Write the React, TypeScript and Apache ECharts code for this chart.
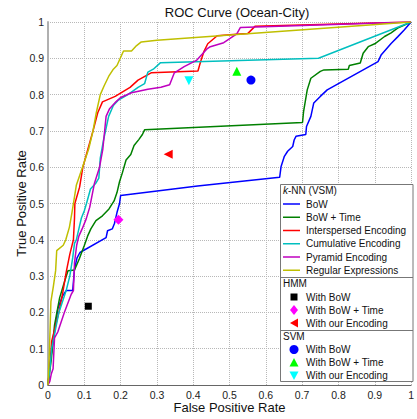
import React, { useEffect, useRef } from "react";
import * as echarts from "echarts";

const FONT = "'Liberation Sans', Arial, Helvetica, sans-serif";

const TITLE = "ROC Curve (Ocean-City)";
const X_NAME = "False Positive Rate";
const Y_NAME = "True Positive Rate";

// k-NN (VSM) curves: [FPR, TPR]
const bowCurve: number[][] = [
  [0, 0], [0.005, 0.055], [0.018, 0.146], [0.027, 0.21], [0.032, 0.224], [0.04, 0.245],
  [0.05, 0.26], [0.068, 0.26], [0.073, 0.32], [0.08, 0.35], [0.088, 0.365], [0.16, 0.406],
  [0.164, 0.425], [0.177, 0.43], [0.183, 0.445], [0.19, 0.475], [0.197, 0.5], [0.2, 0.522],
  [0.412, 0.548], [0.638, 0.572], [0.642, 0.602], [0.651, 0.63], [0.66, 0.644], [0.674, 0.657],
  [0.678, 0.675], [0.683, 0.685], [0.71, 0.69], [0.712, 0.712], [0.724, 0.74], [0.732, 0.777],
  [0.75, 0.795], [0.769, 0.813], [0.909, 0.891], [0.918, 0.91], [0.945, 0.941], [0.963, 0.959],
  [0.981, 0.978], [1, 1],
];
const bowTimeCurve: number[][] = [
  [0, 0], [0.009, 0.07], [0.018, 0.165], [0.032, 0.24], [0.045, 0.283], [0.055, 0.315],
  [0.073, 0.317], [0.086, 0.347], [0.1, 0.384], [0.109, 0.41], [0.118, 0.43], [0.132, 0.453],
  [0.15, 0.466], [0.168, 0.485], [0.182, 0.507], [0.19, 0.53], [0.197, 0.56], [0.205, 0.585],
  [0.215, 0.62], [0.228, 0.635], [0.237, 0.66], [0.25, 0.676], [0.26, 0.69], [0.266, 0.703],
  [0.701, 0.723], [0.704, 0.754], [0.714, 0.813], [0.724, 0.845], [0.75, 0.864], [0.76, 0.868],
  [0.827, 0.87], [0.83, 0.88], [0.86, 0.887], [0.868, 0.914], [0.882, 0.932], [0.9, 0.94],
  [0.927, 0.96], [0.945, 0.97], [0.963, 0.983], [1, 1],
];
const interspersedCurve: number[][] = [
  [0, 0], [0.005, 0.05], [0.01, 0.12], [0.02, 0.16], [0.03, 0.2], [0.04, 0.25], [0.05, 0.31],
  [0.06, 0.36], [0.07, 0.4], [0.073, 0.46], [0.074, 0.5], [0.087, 0.545], [0.096, 0.6],
  [0.11, 0.65], [0.124, 0.7], [0.137, 0.75], [0.15, 0.78], [0.185, 0.795], [0.226, 0.82],
  [0.248, 0.84], [0.284, 0.86], [0.413, 0.865], [0.42, 0.89], [0.43, 0.92], [0.44, 0.94],
  [0.466, 0.962], [0.528, 0.967], [0.55, 0.968], [0.57, 0.988], [1, 1],
];
const cumulativeCurve: number[][] = [
  [0, 0], [0.005, 0.04], [0.01, 0.1], [0.02, 0.15], [0.03, 0.2], [0.04, 0.23], [0.05, 0.26],
  [0.06, 0.3], [0.068, 0.35], [0.073, 0.39], [0.078, 0.4], [0.085, 0.43], [0.092, 0.46],
  [0.1, 0.48], [0.106, 0.5], [0.117, 0.54], [0.131, 0.555], [0.14, 0.57], [0.144, 0.625],
  [0.153, 0.675], [0.167, 0.74], [0.18, 0.77], [0.194, 0.785], [0.22, 0.8], [0.248, 0.82],
  [0.266, 0.83], [0.275, 0.862], [0.29, 0.87], [0.31, 0.888], [0.745, 0.9], [1, 1],
];
const pyramidCurve: number[][] = [
  [0, 0], [0.005, 0.01], [0.009, 0.03], [0.014, 0.045], [0.018, 0.13], [0.027, 0.146],
  [0.045, 0.2], [0.064, 0.25], [0.07, 0.26], [0.073, 0.337], [0.079, 0.385], [0.085, 0.41],
  [0.094, 0.43], [0.105, 0.457], [0.115, 0.49], [0.128, 0.556], [0.142, 0.6], [0.151, 0.65],
  [0.16, 0.74], [0.169, 0.76], [0.187, 0.78], [0.2, 0.792], [0.23, 0.805], [0.275, 0.815],
  [0.311, 0.82], [0.335, 0.827], [0.348, 0.86], [0.375, 0.877], [0.41, 0.895], [0.437, 0.925],
  [0.447, 0.932], [0.484, 0.943], [0.52, 0.967], [0.53, 0.985], [1, 1],
];
const regexCurve: number[][] = [
  [0, 0], [0.004, 0.098], [0.008, 0.23], [0.015, 0.273], [0.021, 0.315], [0.024, 0.37],
  [0.042, 0.385], [0.049, 0.4], [0.059, 0.435], [0.066, 0.475], [0.07, 0.5], [0.078, 0.55],
  [0.095, 0.6], [0.112, 0.65], [0.124, 0.7], [0.133, 0.75], [0.144, 0.8], [0.155, 0.825],
  [0.167, 0.85], [0.18, 0.87], [0.19, 0.88], [0.199, 0.9], [0.208, 0.92], [0.23, 0.92],
  [0.244, 0.935], [0.257, 0.945], [0.3, 0.95], [1, 1],
];

// single-point classifiers
const hmmBow = [0.111, 0.217];
const hmmBowTime = [0.194, 0.455];
const hmmOurs = [0.331, 0.636];
const svmBow = [0.559, 0.84];
const svmBowTime = [0.52, 0.864];
const svmOurs = [0.388, 0.838];

const knnNames = ["BoW", "BoW + Time", "Interspersed Encoding", "Cumulative Encoding", "Pyramid Encoding", "Regular Expressions"];
const knnColors = ["#0000ff", "#008000", "#ff0000", "#00bfbf", "#bf00bf", "#bfbf00"];
const knnData = [bowCurve, bowTimeCurve, interspersedCurve, cumulativeCurve, pyramidCurve, regexCurve];

const pointNames = ["With BoW", "With BoW + Time", "With our Encoding"];

export default function App() {
  const ref = useRef<HTMLDivElement>(null);
  useEffect(() => {
    if (!ref.current) return;
    const chart = echarts.init(ref.current, null, { renderer: "svg" });

    const lineSeries = knnData.map((d, i) => ({
      type: "line",
      name: knnNames[i],
      data: d,
      showSymbol: false,
      symbol: "none",
      lineStyle: { color: knnColors[i], width: 1.5 },
      itemStyle: { color: knnColors[i] },
      z: 2 + i,
    }));

    const pt = (name: string, data: number[], symbol: string, size: number, color: string, rotate = 0) => ({
      type: "scatter",
      name,
      data: [data],
      symbol,
      symbolSize: size,
      symbolRotate: rotate,
      itemStyle: { color, opacity: 1 },
      z: 10,
    });

    const scatterSeries = [
      pt("HMM With BoW", hmmBow, "rect", 7, "#000000"),
      pt("HMM With BoW + Time", hmmBowTime, "diamond", 10, "#ff00ff"),
      pt("HMM With our Encoding", hmmOurs, "triangle", 9, "#ff0000", 90),
      pt("SVM With BoW", svmBow, "circle", 9, "#0000ff"),
      pt("SVM With BoW + Time", svmBowTime, "triangle", 9, "#00ff00"),
      pt("SVM With our Encoding", svmOurs, "triangle", 9, "#00ffff", 180),
    ];

    // legend graphic
    const LX = 280.5, LY = 184.5, LW = 132.5, LH = 197;
    const lineX0 = 283, lineX1 = 300, textX = 306, headX = 283, markX = 294;
    const rowH = 13.25;
    const g: any[] = [];
    g.push({ type: "rect", shape: { x: LX, y: LY, width: LW, height: LH }, style: { fill: "#fff", stroke: "#777", lineWidth: 1 }, z: 100 });
    g.push({ type: "line", shape: { x1: LX, y1: 277.5, x2: LX + LW, y2: 277.5 }, style: { stroke: "#777", lineWidth: 1 }, z: 101 });
    g.push({ type: "line", shape: { x1: LX, y1: 330.5, x2: LX + LW, y2: 330.5 }, style: { stroke: "#777", lineWidth: 1 }, z: 101 });
    const txt = (x: number, y: number, text: string) => ({
      type: "text", x, y, z: 102,
      style: { text, fill: "#111", fontSize: 10, fontFamily: FONT, verticalAlign: "middle" },
    });
    g.push({
      type: "text", x: headX, y: 190.5, z: 102,
      style: {
        text: "{i|k}-NN (VSM)", fill: "#111", fontSize: 10, fontFamily: FONT, verticalAlign: "middle",
        rich: { i: { fontStyle: "italic", fontSize: 10, fontFamily: FONT, fill: "#111" } },
      },
    });
    knnNames.forEach((n, i) => {
      const y = 204 + i * rowH;
      g.push({ type: "line", shape: { x1: lineX0, y1: y, x2: lineX1, y2: y }, style: { stroke: knnColors[i], lineWidth: 1.5 }, z: 102 });
      g.push(txt(textX, y, n));
    });
    g.push(txt(headX, 283, "HMM"));
    g.push(txt(headX, 336, "SVM"));
    const hmmY = [297, 310, 323];
    const svmY = [349.5, 362.5, 375.5];
    pointNames.forEach((n, i) => {
      g.push(txt(textX, hmmY[i], n));
      g.push(txt(textX, svmY[i], n));
    });
    // HMM markers
    g.push({ type: "rect", shape: { x: markX - 3.5, y: hmmY[0] - 3.5, width: 7, height: 7 }, style: { fill: "#000" }, z: 102 });
    g.push({ type: "polygon", shape: { points: [[markX, hmmY[1] - 5], [markX + 4, hmmY[1]], [markX, hmmY[1] + 5], [markX - 4, hmmY[1]]] }, style: { fill: "#ff00ff" }, z: 102 });
    g.push({ type: "polygon", shape: { points: [[markX - 4, hmmY[2]], [markX + 4, hmmY[2] - 4.5], [markX + 4, hmmY[2] + 4.5]] }, style: { fill: "#ff0000" }, z: 102 });
    // SVM markers
    g.push({ type: "circle", shape: { cx: markX, cy: svmY[0], r: 4.5 }, style: { fill: "#0000ff" }, z: 102 });
    g.push({ type: "polygon", shape: { points: [[markX, svmY[1] - 4.5], [markX + 4.5, svmY[1] + 4], [markX - 4.5, svmY[1] + 4]] }, style: { fill: "#00ff00" }, z: 102 });
    g.push({ type: "polygon", shape: { points: [[markX, svmY[2] + 4.5], [markX + 4.5, svmY[2] - 4], [markX - 4.5, svmY[2] - 4]] }, style: { fill: "#00ffff" }, z: 102 });

    const axisCommon = {
      type: "value",
      min: 0,
      max: 1,
      interval: 0.1,
      axisTick: { show: false },
      splitLine: { show: true, lineStyle: { type: "dotted", color: "#b8b8b8", width: 1 } },
      nameLocation: "middle",
      nameMoveOverlap: false,
      nameTextStyle: { fontSize: 13, fontFamily: FONT, color: "#111" },
    };

    chart.setOption({
      animation: false,
      backgroundColor: "#ffffff",
      textStyle: { fontFamily: FONT },
      title: {
        text: TITLE,
        left: 232,
        textAlign: "center",
        top: 1,
        textStyle: { fontSize: 13, fontWeight: "normal", fontFamily: FONT, color: "#111" },
      },
      grid: { left: 48, top: 22, right: 0, bottom: 33, containLabel: false },
      xAxis: {
        ...axisCommon,
        name: X_NAME,
        nameGap: 16,
        axisLine: { show: true, lineStyle: { color: "#666", width: 1 } },
        axisLabel: { fontSize: 10.5, fontFamily: FONT, color: "#222", margin: 4 },
      },
      yAxis: {
        ...axisCommon,
        name: Y_NAME,
        nameGap: 20,
        axisLine: { show: true, lineStyle: { color: "#b0b0b0", width: 2 } },
        axisLabel: { fontSize: 10.5, fontFamily: FONT, color: "#222", margin: 4 },
      },
      series: [...lineSeries, ...scatterSeries],
      graphic: g,
    });
    return () => chart.dispose();
  }, []);
  return <div ref={ref} style={{ position: "absolute", left: 0, top: 0, width: 417, height: 419 }} />;
}
